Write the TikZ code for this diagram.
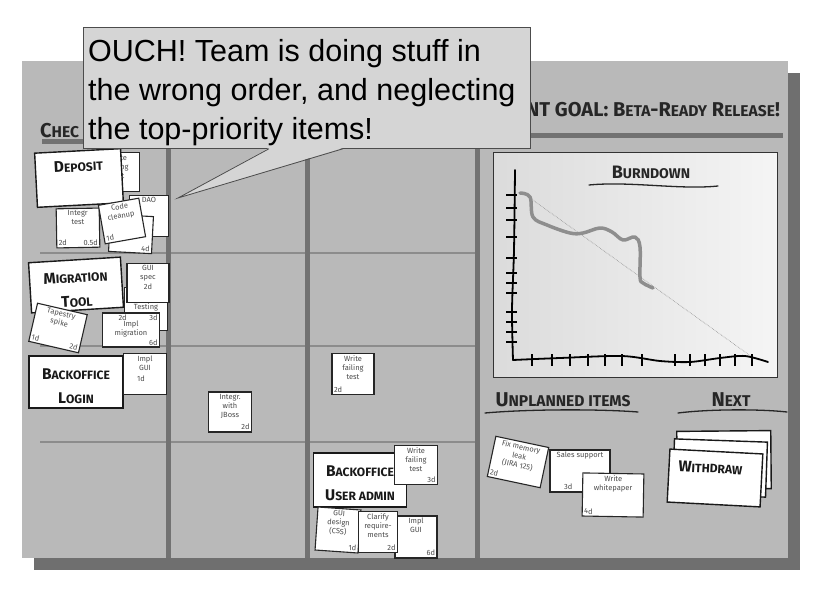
\documentclass[tikz,border=0pt]{standalone}
\usepackage{fontspec}
\usepackage{graphicx}
\setmainfont{Liberation Sans}
\newfontfamily\handfont{Fira Sans}
\usetikzlibrary{positioning}

\definecolor{boardgray}{HTML}{B9B9B9}
\definecolor{shadowgray}{HTML}{6F6F6F}
\definecolor{dividergray}{HTML}{727272}
\definecolor{rowgray}{HTML}{8C8C8C}
\definecolor{bubblegray}{HTML}{D5D5D5}
\definecolor{burngray}{HTML}{8E8E8E}

\newcommand\scap[2]{#1\scalebox{0.78}{#2}}
\newcommand\taskbody[4]{\begin{minipage}[c][#2][s]{#1}\centering #3\par\vfill #4\end{minipage}}

\tikzset{
  note/.style={draw=black!85, fill=white, line width=1.1pt, inner sep=2pt,
    font=\handfont\fontsize{7.5}{9.2}\selectfont, text=black!70},
  card/.style={draw=black!90, fill=white, line width=1.4pt, inner sep=0pt,
    font=\handfont\bfseries\fontsize{15.5}{24}\selectfont, text=black!90},
  heading/.style={font=\handfont\bfseries\fontsize{20}{22}\selectfont, text=black!85, inner sep=0pt},
  divider/.style={dividergray, line width=5pt},
  rowline/.style={rowgray, line width=2pt},
  underline/.style={black!85, line width=1.3pt, line cap=round},
  axis/.style={black, line width=1.8pt, line cap=round},
  bubble/.style={draw=black!70, fill=bubblegray, line width=0.8pt,
    minimum width=447pt, minimum height=121pt, inner sep=0pt},
  bubbletext/.style={inner sep=0pt, align=left, font=\fontsize{30.5}{39}\selectfont},
}

\begin{document}
\begin{tikzpicture}[x=1pt,y=-1pt]
  \useasboundingbox (0,0) rectangle (821,601);
  \fill[white] (0,0) rectangle (821,601);
  % board
  \fill[shadowgray] (34,73) rectangle (800,570);
  \fill[boardgray] (22,61) rectangle (788,558);

  % headings
  \node[heading, anchor=west] (checked) at (40,131) {\scap{C}{HEC}};
  \node[heading, anchor=east] (goal) at (780,110) {NT GOAL: \scap{B}{ETA}-\scap{R}{EADY} \scap{R}{ELEASE}!};
  \draw[divider] (42,142) -- (300,142);
  \draw[divider] (490,136) -- (783,136);

  % rows and columns
  \foreach \y in {253,346,442} \draw[rowline] (40,\y) -- (477,\y);
  \foreach \x in {168,307,477} \draw[divider] (\x,146) -- (\x,558);

  % checked out: deposit
  \node[note] (wftA) at (118,172) {\taskbody{39pt}{35pt}{Write\\failing\\test}{}};
  \node[note] (dao) at (149,216) {\taskbody{35pt}{37pt}{DAO}{}};
  \node[card, rotate=3] (deposit) at (79,178) {\taskbody{86pt}{54pt}{\vspace*{10pt}\scap{D}{EPOSIT}}{}};
  \node[note, rotate=1] (integr) at (78,228) {\taskbody{39pt}{35pt}{Integr\\test}{2d\hfill 0.5d}};
  \node[note, rotate=-3] (cleanupback) at (131,234) {\taskbody{39pt}{33pt}{}{\hfill 4d}};
  \node[note, rotate=10] (cleanup) at (122,221) {\taskbody{37pt}{35pt}{Code\\cleanup}{1d\hspace*{\fill}}};

  % migration tool
  \node[note] (testing) at (146,309) {\taskbody{39pt}{37pt}{\vspace*{14pt}Testing}{}};
  \node[card, rotate=3.5] (migration) at (76,285) {\taskbody{92pt}{50pt}{\vspace*{12pt}\scap{M}{IGRATION}\\\scap{T}{OOL}}{}};
  \node[note] (guispec) at (148,283) {\taskbody{38pt}{35pt}{GUI\\spec\\2d}{}};
  \node[note] (implmig) at (131,330) {\taskbody{53pt}{30pt}{\hspace*{14pt}2d\hfill 3d\\[-3pt]Impl\\migration}{\hfill 6d}};
  \node[note, rotate=-13] (tapestry) at (58,328) {\taskbody{47pt}{35pt}{Tapestry\\spike}{1d\hfill 2d}};

  % backoffice login
  \node[card] (bologin) at (76,382) {\taskbody{94pt}{52pt}{\vspace*{13pt}\scap{B}{ACKOFFICE}\\\scap{L}{OGIN}}{}};
  \node[note] (implguiA) at (145,374) {\taskbody{39pt}{37pt}{Impl\\GUI\\[2pt]1d\hspace*{8pt}}{}};

  % second and third column
  \node[note] (jboss) at (230,412) {\taskbody{39pt}{36pt}{Integr.\\with\\JBoss}{\hfill 2d}};
  \node[note] (wftB) at (353,374) {\taskbody{38pt}{37pt}{Write\\failing\\test}{2d\hspace*{\fill}}};
  \node[card] (bouser) at (360,480) {\taskbody{93pt}{54pt}{\vspace*{13pt}\scap{B}{ACKOFFICE}\\\scap{U}{SER ADMIN}}{}};
  \node[note] (wftC) at (416,465) {\taskbody{39pt}{35pt}{Write\\failing\\test}{\hfill 3d}};
  \node[note] (implguiB) at (416,537) {\taskbody{38pt}{38pt}{Impl\\GUI}{\hfill 6d}};
  \node[note, rotate=-4] (guidesign) at (338,530) {\taskbody{39pt}{39pt}{GUI\\design\\(CSS)}{\hfill 1d}};
  \node[note] (clarify) at (378,532) {\taskbody{35pt}{37pt}{Clarify\\require-\\ments}{\hfill 2d}};

  % burndown chart
  \node[draw=black!80, line width=1pt, left color=black!14, right color=black!4,
    minimum width=284pt, minimum height=224pt] (chart) at (635,265) {};
  \node[heading, font=\handfont\bfseries\fontsize{18}{20}\selectfont] (burntitle) at (651,172) {\scap{B}{URNDOWN}};
  \draw[underline] (589,185) .. controls (630,181) and (680,190) .. (718,186);
  \draw[black!45, line width=0.6pt, densely dotted] (530,198) -- (752,357);
  \draw[axis] plot[smooth] coordinates {(515,170) (514,250) (512,310) (513,360)};
  \draw[axis] plot[smooth] coordinates {(513,360) (560,358) (622,356) (660,361) (690,362) (720,358) (745,356) (768,362)};
  \foreach \y in {195,208,220,237,258,273,283,293,312,322,332,342}
    \draw[black, line width=1.3pt] (506,\y) -- (517,\y);
  \foreach \x in {532,552,570,588,605,622,642,675,690,705,720,735,752}
    \draw[black, line width=1.3pt] (\x,354) -- (\x,366);
  \draw[burngray, line width=3.5pt, line cap=round, line join=round]
    plot[smooth, tension=0.6] coordinates {(520,193) (530,197) (533,217) (547,225) (570,233)
      (583,233) (600,228) (612,232) (623,240) (635,237) (640,247) (640,277) (643,283) (653,288)};

  % unplanned items and next
  \node[heading] (unplanned) at (563,400) {\scap{U}{NPLANNED ITEMS}};
  \node[heading] (next) at (731,400) {\scap{N}{EXT}};
  \draw[underline] (485,413) .. controls (530,409) and (600,409) .. (638,412);
  \draw[underline] (678,413) .. controls (710,409) and (760,409) .. (787,412);
  \node[note, rotate=-12] (fixmem) at (518,462) {\taskbody{50pt}{37pt}{Fix memory\\leak\\(JIRA 125)}{2d\hspace*{\fill}}};
  \node[note] (sales) at (580,471) {\taskbody{56pt}{38pt}{Sales support}{\hspace*{12pt}3d\hspace*{\fill}}};
  \node[note, rotate=-1] (whitepaper) at (613,495) {\taskbody{57pt}{39pt}{Write\\whitepaper}{4d\hspace*{\fill}}};
  \node[card, rotate=0.5, minimum width=94pt, minimum height=58pt] (nextc) at (724,460) {};
  \node[card, rotate=-2, minimum width=93pt, minimum height=55pt] (nextb) at (720,468) {};
  \node[card, rotate=-3] (withdraw) at (715,478) {\taskbody{93pt}{53pt}{\vspace*{11pt}\scap{W}{ITHDRAW}\hspace*{10pt}}{}};

  % speech bubble
  \node[bubble, anchor=north west] (ouch) at (83,27) {};
  \node[bubbletext, anchor=north west] (ouchtext) at ([xshift=5pt,yshift=-12.5pt]ouch.north west)
    {OUCH! Team is doing stuff in\\the wrong order, and neglecting\\the top-priority items!};
  \coordinate (tip) at (178,198);
  \fill[bubblegray] ([xshift=-38pt,yshift=0.8pt]ouch.south) -- (tip) -- ([xshift=36pt,yshift=0.8pt]ouch.south) -- cycle;
  \draw[black!70, line width=0.8pt] ([xshift=-38pt]ouch.south) -- (tip) -- ([xshift=36pt]ouch.south);
\end{tikzpicture}
\end{document}
